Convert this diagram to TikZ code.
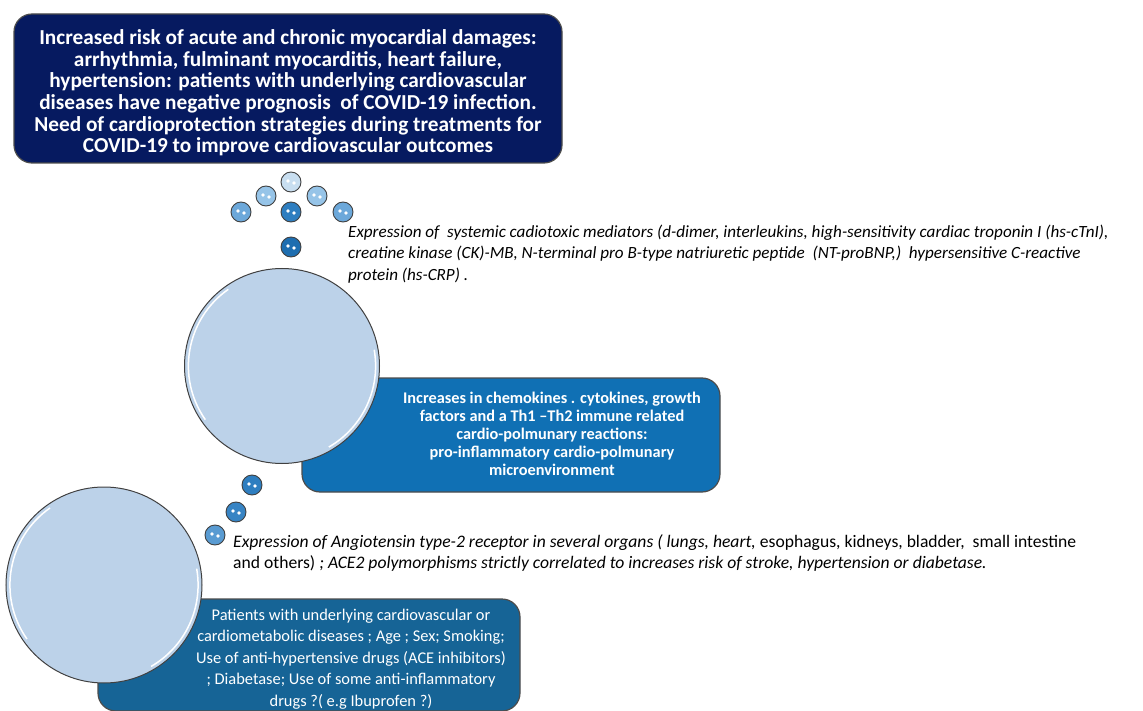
\documentclass[tikz,border=0pt]{standalone}
\usepackage{fontspec}
\setmainfont{Carlito}
\usetikzlibrary{positioning}

\definecolor{navybox}{RGB}{6,26,96}
\definecolor{midbox}{RGB}{16,112,180}
\definecolor{lowbox}{RGB}{22,100,150}
\definecolor{bigfill}{RGB}{188,210,233}
\definecolor{ballA}{RGB}{200,222,240}
\definecolor{ballB}{RGB}{150,196,232}
\definecolor{ballC}{RGB}{108,168,218}
\definecolor{ballD}{RGB}{46,126,192}
\definecolor{ballE}{RGB}{30,110,176}

\begin{document}
\begin{tikzpicture}[x=1pt, y=-1pt,
    panel/.style={draw=black!70, line width=1.2pt, rounded corners=18pt, inner sep=0pt},
    bigball/.style={circle, draw=black!75, line width=1pt, fill=bigfill, inner sep=0pt, minimum size=#1,
        path picture={
            \draw[white, line width=1.5pt] (path picture bounding box.center) ++(125:0.48*#1) arc (125:215:0.48*#1);
            \draw[white, line width=1.5pt] (path picture bounding box.center) ++(-60:0.48*#1) arc (-60:10:0.48*#1);
        }},
    ball/.style={circle, draw=black!75, line width=0.9pt, fill=#1, minimum size=20pt, inner sep=0pt,
        path picture={
            \fill[white] ([xshift=-3pt,yshift=1pt]path picture bounding box.center) circle (1.8pt);
            \fill[white] ([xshift=3pt,yshift=-1pt]path picture bounding box.center) circle (1.8pt);
        }},
    boxtext/.style={text=white, align=center, inner sep=0pt},
    note/.style={anchor=west, align=left, inner sep=0pt, font=\fontsize{17.6}{21}\selectfont}]

    \useasboundingbox (0,0) rectangle (1143,711);

    % outcome box at the top
    \node[panel, fill=navybox, minimum width=548, minimum height=149] (outcome) at (288,88.5) {};
    \node[boxtext, font=\bfseries\fontsize{21.3}{21.6}\selectfont] (outcometxt) at (288,93)
        {Increased risk of acute and chronic myocardial damages:\\
         arrhythmia, fulminant myocarditis, heart failure,\\
         hypertension: patients with underlying cardiovascular\\
         diseases have negative prognosis\ \ of COVID-19 infection.\\
         Need of cardioprotection strategies during treatments for\\
         COVID-19 to improve cardiovascular outcomes};

    % bubbles pointing up
    \node[ball=ballA] (b1) at (291,182) {};
    \node[ball=ballB] (b2) at (266,196) {};
    \node[ball=ballB] (b3) at (317,196) {};
    \node[ball=ballC] (b4) at (241,212) {};
    \node[ball=ballD] (b5) at (291,212) {};
    \node[ball=ballC] (b6) at (343,212) {};
    \node[ball=ballE] (b7) at (291,247) {};

    \node[note, font=\itshape\fontsize{17.1}{21.8}\selectfont] (mediators) at (348,254)
        {Expression of\ \ systemic cadiotoxic mediators (d-dimer, interleukins, high-sensitivity cardiac troponin I (hs-cTnI),\\
         creatine kinase (CK)-MB, N-terminal pro B-type natriuretic peptide\ \ (NT-proBNP,)\ \ hypersensitive C-reactive\\
         protein (hs-CRP) .};

    % middle step
    \node[panel, fill=midbox, minimum width=418, minimum height=114] (immune) at (511,435) {};
    \node[bigball=195pt] (circA) at (282,366) {};
    \node[boxtext, font=\bfseries\fontsize{16.3}{18}\selectfont] (immunetxt) at (552,434)
        {Increases in chemokines . cytokines, growth\\
         factors and a Th1 --Th2 immune related\\
         cardio-polmunary reactions:\\
         pro-inflammatory cardio-polmunary\\
         microenvironment};

    \node[ball=ballD] (c1) at (252,485) {};
    \node[ball=ballD!85!ballC] (c2) at (236,512) {};
    \node[ball=ballC!70!ballD] (c3) at (215,535) {};

    \node[note] (receptor) at (233,553)
        {\textit{Expression of Angiotensin type-2 receptor in several organs ( lungs, heart,} esophagus, kidneys, bladder,\ \ small intestine\\
         and others) \textit{; ACE2 polymorphisms strictly correlated to increases risk of stroke, hypertension or diabetase.}};

    % risk factors at the bottom
    \node[panel, fill=lowbox, minimum width=422, minimum height=112] (risk) at (309,655) {};
    \node[bigball=196pt] (circB) at (104,585) {};
    \node[boxtext, font=\fontsize{16.4}{21.5}\selectfont] (risktxt) at (351,659)
        {Patients with underlying cardiovascular or\\
         cardiometabolic diseases ; Age ; Sex; Smoking;\\
         Use of anti-hypertensive drugs (ACE inhibitors)\\
         ; Diabetase; Use of some anti-inflammatory\\
         drugs ?( e.g Ibuprofen ?)};

\end{tikzpicture}
\end{document}
